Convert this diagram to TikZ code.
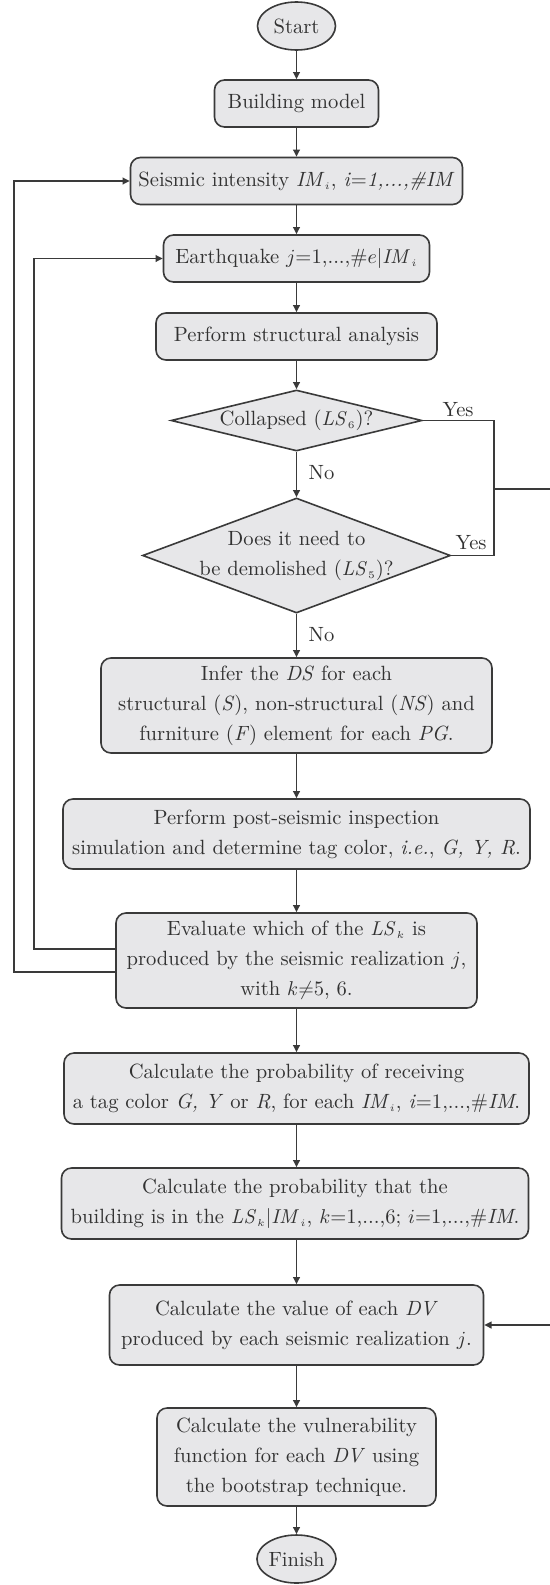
\documentclass[tikz,border=0pt]{standalone}
\usetikzlibrary{shapes.geometric,arrows.meta}
\definecolor{edgegray}{RGB}{58,58,58}
\definecolor{boxgray}{RGB}{231,231,233}
\definecolor{inkgray}{RGB}{50,50,50}
\begin{document}
\begin{tikzpicture}[x=0.5pt,y=-0.5pt,
  font=\fontsize{10.3}{15}\selectfont,
  every node/.style={text=inkgray},
  stepbox/.style={draw=edgegray,fill=boxgray,line width=0.8pt,rounded corners=5pt,align=center,inner sep=0pt},
  termbox/.style={draw=edgegray,fill=boxgray,line width=0.8pt,ellipse,inner sep=0pt},
  decide/.style={draw=edgegray,fill=boxgray,line width=0.8pt,diamond,align=center,inner sep=0pt},
  link/.style={draw=edgegray,line width=0.8pt},
  arr/.style={link,-{Triangle[length=3.6pt,width=3.4pt]}},
  lbl/.style={inner sep=0pt}]
\useasboundingbox (0,0) rectangle (550,1585);

% main chain
\node[termbox,minimum width=39pt,minimum height=24pt] (start) at (296.5,26) {Start};
\node[stepbox,minimum width=82pt,minimum height=23.5pt] (build) at (296.5,103.5) {Building model};
\node[stepbox,minimum width=166pt,minimum height=23.5pt] (seis) at (296.5,181) {Seismic intensity \textit{IM}$_{\scriptscriptstyle i}$, \textit{i}=\textit{1,...,\#IM}};
\node[stepbox,minimum width=133pt,minimum height=23.5pt] (quake) at (296.5,258.5) {Earthquake $j$=1,...,\#$e|\mathit{IM}_{\scriptscriptstyle i}$};
\node[stepbox,minimum width=140.5pt,minimum height=23.5pt] (perf) at (296.5,336.5) {Perform structural analysis};
\node[decide,aspect=4.1,minimum width=125.5pt,minimum height=30.5pt] (coll) at (296.5,420.5) {Collapsed ($\mathit{LS}_{\scriptscriptstyle 6}$)?};
\node[decide,aspect=2.68,inner xsep=-6pt,minimum width=154pt,minimum height=57.5pt] (dem) at (296.5,555.5) {Does it need to\\be demolished ($\mathit{LS}_{\scriptscriptstyle 5}$)?};
\node[stepbox,minimum width=195.5pt,minimum height=47.5pt] (infer) at (296.5,705.5) {Infer the \textit{DS} for each\\structural (\textit{S}), non-structural (\textit{NS}) and\\furniture (\textit{F}) element for each \textit{PG}.};
\node[stepbox,minimum width=233.5pt,minimum height=35pt] (post) at (296.5,834) {Perform post-seismic inspection\\simulation and determine tag color, \textit{i.e.}, \textit{G, Y, R}.};
\node[stepbox,minimum width=180.5pt,minimum height=47.5pt] (eval) at (296.5,960.5) {Evaluate which of the $\mathit{LS}_{\scriptscriptstyle k}$ is\\produced by the seismic realization $j$,\\with $k{\neq}$5, 6.};
\node[stepbox,minimum width=232.5pt,minimum height=35.5pt] (tag) at (296.5,1088.5) {Calculate the probability of receiving\\a tag color \textit{G, Y} or \textit{R}, for each \textit{IM}$_{\scriptscriptstyle i}$, \textit{i}=1,...,\#\textit{IM}.};
\node[stepbox,minimum width=233.5pt,minimum height=35.5pt] (lsp) at (295,1203.5) {Calculate the probability that the\\building is in the $\mathit{LS}_{\scriptscriptstyle k}|\mathit{IM}_{\scriptscriptstyle i}$, $k$=1,...,6; $i$=1,...,\#\textit{IM}.};
\node[stepbox,minimum width=187pt,minimum height=40pt] (dv) at (296.5,1325) {Calculate the value of each \textit{DV}\\produced by each seismic realization $j$.};
\node[stepbox,minimum width=139.5pt,minimum height=49pt] (vul) at (296.5,1457) {Calculate the vulnerability\\function for each \textit{DV} using\\the bootstrap technique.};
\node[termbox,minimum width=39.5pt,minimum height=24pt] (fin) at (296.5,1559) {Finish};

% downward flow
\draw[arr] (start) -- (build);
\draw[arr] (build) -- (seis);
\draw[arr] (seis) -- (quake);
\draw[arr] (quake) -- (perf);
\draw[arr] (perf) -- (coll);
\draw[arr] (coll) -- (dem);
\draw[arr] (dem) -- (infer);
\draw[arr] (infer) -- (post);
\draw[arr] (post) -- (eval);
\draw[arr] (eval) -- (tag);
\draw[arr] (tag.south) -- (tag.south |- lsp.north);
\draw[arr] (lsp.south -| dv.north) -- (dv);
\draw[arr] (dv) -- (vul);
\draw[arr] (vul) -- (fin);

% branch labels
\node[lbl] (yes1) at (458,410) {Yes};
\node[lbl] (yes2) at (471,543) {Yes};
\node[lbl] (no1) at (321.5,473) {No};
\node[lbl] (no2) at (321.5,635) {No};

% loops back to the earthquake and intensity levels
\coordinate (innerc) at (34,949);
\coordinate (outerc) at (14,972);
\draw[arr] (eval.west |- innerc) -- (innerc) |- (quake.west);
\draw[arr] (eval.west |- outerc) -- (outerc) |- (seis.west);

% collapse / demolition branch to the loss step
\coordinate (rj) at (494,489);
\coordinate (rout) at (580,489);
\draw[link] (coll.east) -- (coll.east -| rj) -- (dem.east -| rj) -- (dem.east);
\draw[arr] (rj) -- (rout) |- (dv.east);
\end{tikzpicture}
\end{document}
